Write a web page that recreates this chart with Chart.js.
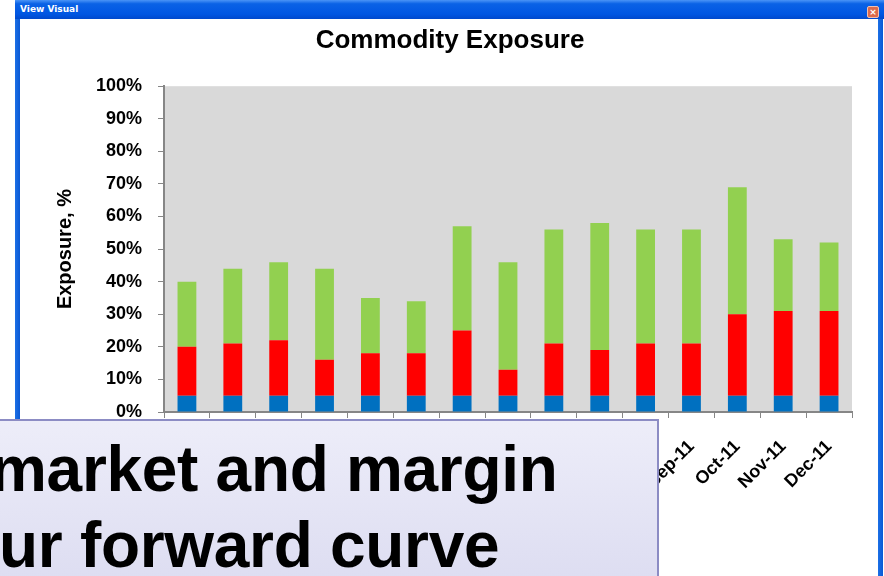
<!DOCTYPE html>
<html>
<head>
<meta charset="utf-8">
<title>Commodity Exposure</title>
<script src="https://cdn.jsdelivr.net/npm/chart.js@4.4.1/dist/chart.umd.min.js"></script>
<style>
    body {
        margin: 0;
        width: 884px;
        height: 576px;
        overflow: hidden;
        position: relative;
        background: #fff;
        font-family: "Liberation Sans", Arial, sans-serif;
    }
    .titlebar {
        position: absolute;
        left: 15px;
        top: 0;
        width: 869px;
        height: 19px;
        background: linear-gradient(to bottom, #4a94f7 0%, #0a62e6 20%, #0056e2 75%, #0049cc 100%);
    }
    .titlebar span {
        position: absolute;
        left: 5px;
        top: 4px;
        color: #fff;
        font: bold 9px "DejaVu Sans", sans-serif;
    }
    .close-btn {
        position: absolute;
        left: 852px;
        top: 6px;
        width: 10px;
        height: 10px;
        border-radius: 2px;
        background: #dc6a4c;
        border: 1px solid #f0c0b0;
        color: #fff;
        font: bold 9px "DejaVu Sans", sans-serif;
        line-height: 10px;
        text-align: center;
    }
    .border-left, .border-right {
        position: absolute;
        top: 19px;
        width: 5px;
        height: 557px;
        background: linear-gradient(to right, #1c70e6, #0a58d4);
    }
    .border-left { left: 15px; }
    .border-right { left: 878px; }
    #chart-wrap {
        position: absolute;
        left: 20px;
        top: 20px;
        width: 858px;
        height: 556px;
    }
    .overlay {
        position: absolute;
        left: -2px;
        top: 419px;
        width: 657px;
        height: 170px;
        border: 2px solid #8c8cc4;
        background: linear-gradient(to bottom, #ededf9, #dcdcf1);
    }
    .overlay-line {
        position: absolute;
        font-size: 64px;
        font-weight: bold;
        line-height: 64px;
        white-space: nowrap;
        letter-spacing: -0.3px;
        color: #000;
    }
</style>
</head>
<body>
<div class="titlebar"><span>View Visual</span><div class="close-btn">&#215;</div></div>
<div class="border-left"></div>
<div class="border-right"></div>
<div id="chart-wrap"><canvas id="exposureChart" width="858" height="556"></canvas></div>
<div class="overlay"></div>
<div class="overlay-line" style="left:-10px; top:437px;">market and margin</div>
<div class="overlay-line" style="left:-1px; top:513px;">ur forward curve</div>

<script>
// Months on the x axis
const months = ['Oct-10', 'Nov-10', 'Dec-10', 'Jan-11', 'Feb-11', 'Mar-11', 'Apr-11', 'May-11',
    'Jun-11', 'Jul-11', 'Aug-11', 'Sep-11', 'Oct-11', 'Nov-11', 'Dec-11'];

// Stacked segments, in % of exposure
const blueValues = [5, 5, 5, 5, 5, 5, 5, 5, 5, 5, 5, 5, 5, 5, 5];
const redValues = [15, 16, 17, 11, 13, 13, 20, 8, 16, 14, 16, 16, 25, 26, 26];
const greenValues = [20, 23, 24, 28, 17, 16, 32, 33, 35, 39, 35, 35, 39, 22, 21];

// Y axis ticks
const yTicks = [0, 10, 20, 30, 40, 50, 60, 70, 80, 90, 100];

Chart.defaults.font.family = '"Liberation Sans", Arial, sans-serif';
Chart.defaults.color = '#000';

// Grey plot area behind the bars
const plotBackground = {
    id: 'plotBackground',
    beforeDraw(chart) {
        const { ctx, chartArea } = chart;
        ctx.save();
        ctx.fillStyle = '#d9d9d9';
        ctx.fillRect(chartArea.left, chartArea.top, chartArea.right - chartArea.left, chartArea.bottom - chartArea.top);
        ctx.restore();
    }
};

const axisColor = '#868686';

function makeDataset(label, values, color) {
    return {
        label: label,
        data: values,
        backgroundColor: color,
        categoryPercentage: 1,
        barPercentage: 0.41
    };
}

const ctx = document.getElementById('exposureChart').getContext('2d');
new Chart(ctx, {
    type: 'bar',
    data: {
        labels: months,
        datasets: [
            makeDataset('Base', blueValues, '#0070c0'),
            makeDataset('Margin', redValues, '#ff0000'),
            makeDataset('Market', greenValues, '#92d050')
        ]
    },
    options: {
        responsive: false,
        animation: false,
        layout: {
            padding: { left: 28, right: 26, top: 0, bottom: 0 }
        },
        scales: {
            x: {
                stacked: true,
                grid: {
                    drawOnChartArea: false,
                    drawTicks: true,
                    tickLength: 6,
                    color: axisColor
                },
                border: { color: axisColor, width: 2 },
                ticks: {
                    autoSkip: false,
                    minRotation: 45,
                    maxRotation: 45,
                    padding: 18,
                    font: { size: 18, weight: 'bold' }
                },
                afterFit(scale) {
                    scale.height = 164;
                }
            },
            y: {
                stacked: true,
                min: 0,
                max: 100,
                afterBuildTicks(scale) {
                    scale.ticks = yTicks.map(v => ({ value: v }));
                },
                grid: {
                    drawOnChartArea: false,
                    drawTicks: true,
                    tickLength: 6,
                    color: axisColor
                },
                border: { color: axisColor, width: 2 },
                ticks: {
                    padding: 16,
                    font: { size: 18, weight: 'bold' },
                    callback: v => v + '%'
                },
                title: {
                    display: true,
                    text: 'Exposure, %',
                    font: { size: 20, weight: 'bold' },
                    padding: { top: 5, bottom: 0 }
                },
                afterFit(scale) {
                    scale.width = 116;
                }
            }
        },
        plugins: {
            legend: { display: false },
            tooltip: { enabled: false },
            title: {
                display: true,
                text: 'Commodity Exposure',
                font: { size: 26, weight: 'bold' },
                padding: { top: 5, bottom: 30 }
            }
        }
    },
    plugins: [plotBackground]
});
</script>
</body>
</html>
